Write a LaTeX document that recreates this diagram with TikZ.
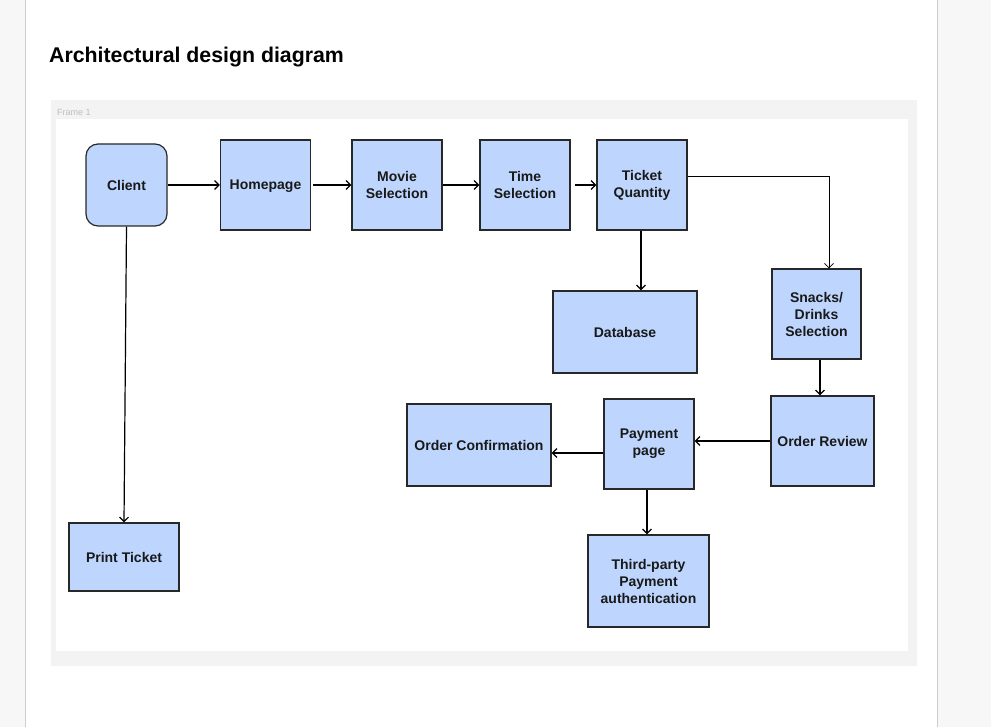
\documentclass[tikz,border=0pt]{standalone}
\usepackage{fontspec}
\setmainfont{Liberation Sans}
\usetikzlibrary{arrows.meta}
\definecolor{boxblue}{RGB}{190,214,254}
\definecolor{boxline}{RGB}{40,40,40}
\definecolor{pagegray}{RGB}{247,247,247}
\definecolor{edgegray}{RGB}{205,205,205}
\definecolor{framegray}{RGB}{243,243,243}
\definecolor{framelabel}{RGB}{190,190,190}
\begin{document}
\begin{tikzpicture}[
        x=1pt, y=-1pt,
        box/.style={draw=boxline, fill=boxblue, line width=1.2pt, inner sep=0pt,
            align=center, text=black!90, font=\bfseries\fontsize{14}{17}\selectfont},
        link/.style={draw, line width=1.2pt, -{Straight Barb[length=4.5pt,width=9pt]}},
        thinlink/.style={link, line width=0.8pt},
    ]
    \useasboundingbox (0,0) rectangle (991,727);
    % page and frame
    \fill[white] (0,0) rectangle (991,727);
    \fill[pagegray] (0,0) rectangle (25,727);
    \fill[pagegray] (937,0) rectangle (991,727);
    \draw[edgegray] (25,0) -- (25,727);
    \draw[edgegray] (937,0) -- (937,727);
    \fill[framegray] (51,100) rectangle (917,666);
    \fill[white] (56,119) rectangle (908,651);
    \node[anchor=base west, inner sep=0pt, text=framelabel, font=\fontsize{9}{10}\selectfont](framename) at (57,116){Frame 1};
    \node[anchor=base west, inner sep=0pt, font=\bfseries\fontsize{21.3}{25}\selectfont](title) at (49,63){Architectural design diagram};

    % boxes
    \node[box, rounded corners=12pt, minimum width=81pt, minimum height=82pt](client) at (126.5,185){Client};
    \node[box, text depth=0pt, minimum width=90pt, minimum height=90pt](homepage) at (265.5,185){Homepage};
    \node[box, minimum width=90pt, minimum height=90pt](movie) at (397,185){Movie\\Selection};
    \node[box, minimum width=90pt, minimum height=90pt](time) at (525,185){Time\\Selection};
    \node[box, minimum width=90pt, minimum height=90pt](quantity) at (642,185){Ticket\\Quantity};
    \node[box, minimum width=144pt, minimum height=82pt](database) at (625,332){Database};
    \node[box, minimum width=89pt, minimum height=90pt](snacks) at (816.5,314){Snacks/\\Drinks\\Selection};
    \node[box, minimum width=103pt, minimum height=90pt](review) at (822.5,441){Order Review};
    \node[box, minimum width=90pt, minimum height=90pt](payment) at (649,444){Payment\\page};
    \node[box, minimum width=144pt, minimum height=82pt](confirm) at (479,445){Order Confirmation};
    \node[box, minimum width=121pt, minimum height=92pt](auth) at (648.5,581){Third-party\\Payment\\authentication};
    \node[box, minimum width=110pt, minimum height=68pt](print) at (124,557){Print Ticket};

    % connectors
    \draw[link] (client.east) -- (homepage.west);
    \draw[link, shorten <=2pt] (homepage.east) -- (movie.west);
    \draw[link] (movie.east) -- (time.west);
    \draw[link, shorten <=4pt] (time.east) -- (quantity.west);
    \draw[thinlink] ([yshift=9pt]quantity.east) -| ([xshift=12.5pt]snacks.north);
    \draw[link] ([xshift=-1pt]quantity.south) -- ([xshift=-1pt]quantity.south |- database.north);
    \draw[link] ([xshift=-2.5pt]review.north |- snacks.south) -- ([xshift=-2.5pt]review.north);
    \draw[link] (review.west) -- (review.west -| payment.east);
    \draw[link] ([yshift=-9pt]payment.west) -- ([yshift=-9pt]payment.west -| confirm.east);
    \draw[link] ([xshift=-2pt]payment.south) -- ([xshift=-2pt]payment.south |- auth.north);
    \draw[link] (client.south) -- (print.north);
    \end{tikzpicture}
\end{document}
